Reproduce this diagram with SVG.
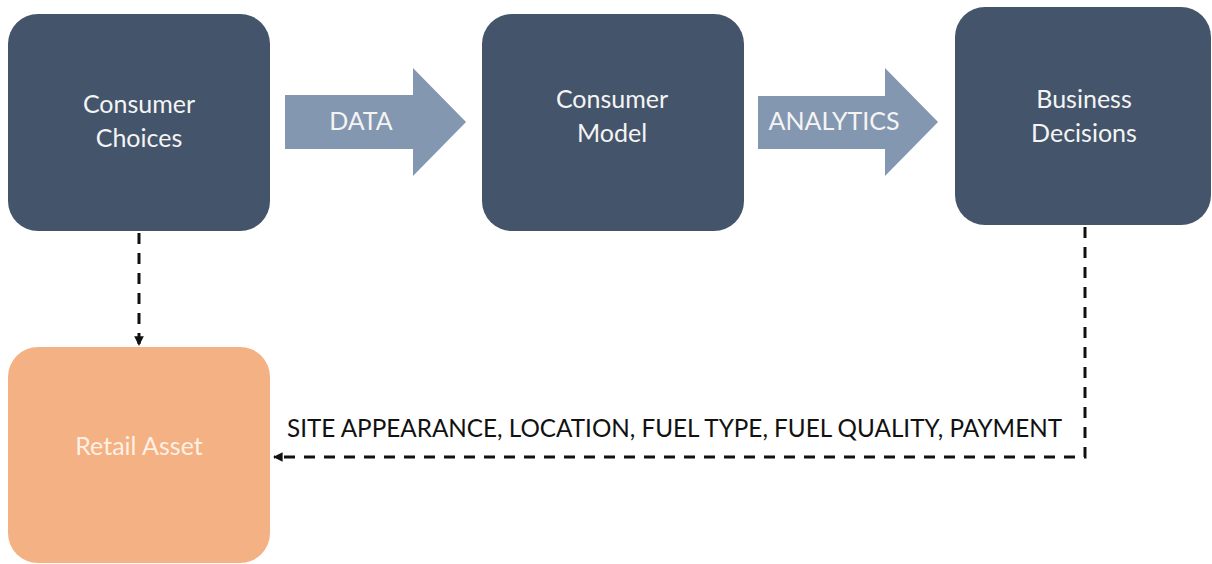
<svg xmlns="http://www.w3.org/2000/svg" width="1212" height="564" viewBox="0 0 1212 564">
  <style>
    .box { fill: #44546A; }
    .asset { fill: #F4B183; }
    .flow { fill: #8497B0; }
    .lbl { font-family: Lato, "Open Sans", "Liberation Sans", sans-serif; font-size: 25px; fill: #F4F4F4; text-anchor: middle; }
    .asset-lbl { fill: #FFF0E4; }
    .edge-lbl { font-family: Lato, "Open Sans", "Liberation Sans", sans-serif; font-size: 24.5px; fill: #111111; }
    .dash { fill: none; stroke: #111111; stroke-width: 3; stroke-dasharray: 11 9; }
  </style>
  <defs>
    <marker id="head" viewBox="0 0 10 10" refX="9" refY="5" markerWidth="3.2" markerHeight="3.2" orient="auto" markerUnits="strokeWidth">
      <path d="M0,0 L10,5 L0,10 Z" fill="#111111"/>
    </marker>
  </defs>
  <rect width="1212" height="564" fill="#FFFFFF"/>

  <!-- connectors -->
  <g id="connectors">
    <g id="flow-data">
      <polygon class="flow" points="285,95 413,95 413,68 466,122 413,176 413,149 285,149"/>
      <text class="lbl" x="361" y="130">DATA</text>
    </g>
    <g id="flow-analytics">
      <polygon class="flow" points="758,96 885,96 885,68 938,122 885,176 885,149 758,149"/>
      <text class="lbl" x="834" y="130">ANALYTICS</text>
    </g>
    <path id="choices-to-asset" class="dash" d="M139,233 V345" marker-end="url(#head)"/>
    <path id="decisions-to-asset" class="dash" d="M1085,227 V457 H274" marker-end="url(#head)"/>
    <text class="edge-lbl" x="287" y="437" textLength="775" lengthAdjust="spacingAndGlyphs">SITE APPEARANCE, LOCATION, FUEL TYPE, FUEL QUALITY, PAYMENT</text>
  </g>

  <!-- nodes -->
  <g id="consumer-choices">
    <rect class="box" x="8" y="14" width="262" height="217" rx="30" ry="30"/>
    <text class="lbl" x="139" y="113">Consumer</text>
    <text class="lbl" x="139" y="147">Choices</text>
  </g>
  <g id="consumer-model">
    <rect class="box" x="482" y="14" width="262" height="217" rx="30" ry="30"/>
    <text class="lbl" x="612" y="108">Consumer</text>
    <text class="lbl" x="612" y="142">Model</text>
  </g>
  <g id="business-decisions">
    <rect class="box" x="955" y="7" width="256" height="218" rx="30" ry="30"/>
    <text class="lbl" x="1084" y="108">Business</text>
    <text class="lbl" x="1084" y="142">Decisions</text>
  </g>
  <g id="retail-asset">
    <rect class="asset" x="8" y="347" width="262" height="216" rx="30" ry="30"/>
    <text class="lbl asset-lbl" x="139" y="455">Retail Asset</text>
  </g>
</svg>
